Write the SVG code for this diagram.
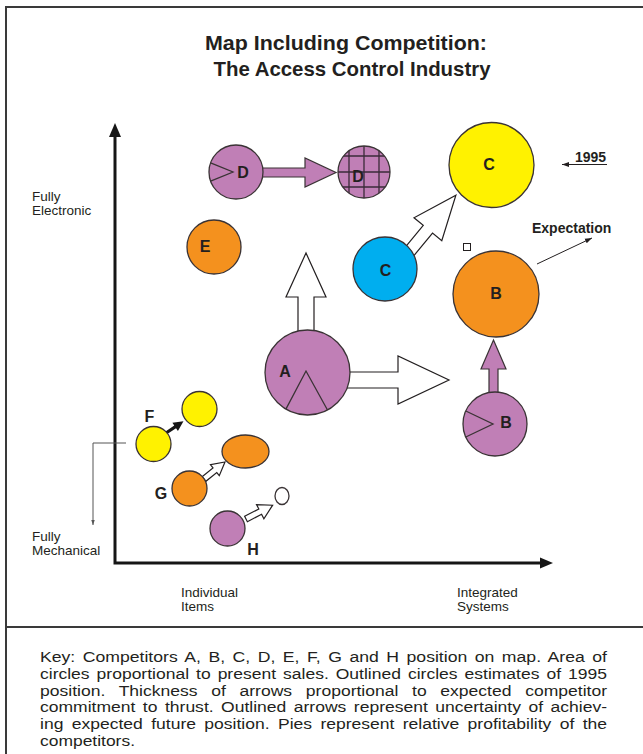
<svg xmlns="http://www.w3.org/2000/svg" width="643" height="754" viewBox="0 0 643 754">
  <style>
    .frame{fill:none;stroke:#3a3a3a;stroke-width:2}
    .axis{fill:none;stroke:#161616;stroke-width:3}
    .axhead{fill:#161616}
    .disc{stroke:#3a3335;stroke-width:1.3}
    .purple{fill:#c07fb6}
    .orange{fill:#f4911e}
    .yellow{fill:#fff200}
    .blue{fill:#00aeef}
    .wedge{fill:none;stroke:#3a3335;stroke-width:1.3}
    .grid{stroke:#3a2a38;stroke-width:1.3}
    .hollow{fill:#fff;stroke:#231f20;stroke-width:1.2;stroke-linejoin:miter}
    .solid{fill:#c07fb6;stroke:#3a3335;stroke-width:1.2}
    .thin{fill:none;stroke:#231f20;stroke-width:1}
    .lead{fill:none;stroke:#555;stroke-width:1}
    .lbl{font-family:"Liberation Sans",Arial,sans-serif;font-weight:bold;font-size:16px;fill:#231f20;text-anchor:middle}
    .note{font-family:"Liberation Sans",Arial,sans-serif;font-weight:bold;font-size:14px;fill:#231f20}
    .axlbl{font-family:"Liberation Sans",Arial,sans-serif;font-size:13.5px;fill:#231f20}
    .title{font-family:"Liberation Sans",Arial,sans-serif;font-weight:bold;font-size:21px;fill:#231f20;text-anchor:middle}
    .key{font-family:"Liberation Sans",Arial,sans-serif;font-size:15.5px;fill:#231f20}
  </style>
  <defs>
    <marker id="tip" viewBox="0 0 10 10" refX="10" refY="5" markerWidth="7" markerHeight="7" orient="auto">
      <path d="M0,1.5 L10,5 L0,8.5 z" fill="#231f20"/>
    </marker>
    <marker id="tipGray" viewBox="0 0 10 10" refX="10" refY="5" markerWidth="5" markerHeight="5" orient="auto">
      <path d="M0,1.5 L10,5 L0,8.5 z" fill="#555"/>
    </marker>
    <clipPath id="d95clip"><circle cx="364" cy="172" r="26"/></clipPath>
  </defs>

  <!-- page frame and key divider -->
  <rect class="frame" x="6" y="7" width="650" height="760"/>
  <line class="frame" x1="6" y1="627" x2="643" y2="627"/>

  <!-- title -->
  <g id="title">
    <text class="title" x="346" y="50" textLength="282" lengthAdjust="spacingAndGlyphs">Map Including Competition:</text>
    <text class="title" x="352" y="76" textLength="277" lengthAdjust="spacingAndGlyphs">The Access Control Industry</text>
  </g>

  <!-- axes -->
  <g id="axes">
    <path class="axis" d="M115,136 V563 H541"/>
    <polygon class="axhead" points="109,137 121,137 115,123"/>
    <polygon class="axhead" points="540,557.5 540,568.5 553,563"/>
    <text class="axlbl" x="32" y="201">Fully</text>
    <text class="axlbl" x="32" y="215">Electronic</text>
    <text class="axlbl" x="32" y="541">Fully</text>
    <text class="axlbl" x="32" y="555">Mechanical</text>
    <text class="axlbl" x="181" y="597">Individual</text>
    <text class="axlbl" x="181" y="611">Items</text>
    <text class="axlbl" x="457" y="597">Integrated</text>
    <text class="axlbl" x="457" y="611">Systems</text>
    <path class="lead" d="M126,443 H93 V525" marker-end="url(#tipGray)"/>
  </g>

  <!-- movement arrows (drawn beneath the circles) -->
  <g id="connectors">
    <!-- D: solid thrust -->
    <polygon class="solid" points="255,168 305,168 305,158 336,172.5 305,187 305,177 255,177"/>
    <!-- B: solid thrust upward -->
    <polygon class="solid" points="489,400 489,369 481,369 493.5,340 506,369 498,369 498,400"/>
    <!-- A: outlined thrusts -->
    <polygon class="hollow" points="298,340 298,297 286,297 306,253 326,297 314,297 314,340"/>
    <polygon class="hollow" points="335,372 398,372 398,356 449,380 398,404 398,388 335,388"/>
    <!-- C: outlined thrust toward 1995 position -->
    <polygon class="hollow" transform="translate(405,257) rotate(-50.5)" points="0,-6 36,-6 36,-18 80,0 36,18 36,6 0,6"/>
    <!-- F: solid thin arrow -->
    <polygon fill="#161616" transform="translate(166,433) rotate(-33.7)" points="0,-1.6 11,-1.6 11,-5 21,0 11,5 11,1.6 0,1.6"/>
    <!-- G and H: small outlined arrows -->
    <polygon class="hollow" transform="translate(204,479) rotate(-39)" points="0,-3 14,-3 14,-7 27,0 14,7 14,3 0,3"/>
    <polygon class="hollow" transform="translate(246,519) rotate(-27.4)" points="0,-3 16,-3 16,-8 30,0 16,8 16,3 0,3"/>
    <!-- annotation pointers -->
    <line class="thin" x1="607" y1="164.5" x2="562" y2="164.5" marker-end="url(#tip)"/>
    <line class="thin" x1="537" y1="264" x2="592" y2="238" marker-end="url(#tip)"/>
  </g>

  <!-- competitors -->
  <g id="node-A">
    <circle class="disc purple" cx="307.5" cy="372.5" r="42.5"/>
    <path class="wedge" d="M285.9,409.1 L306,371 L327.5,410"/>
    <text class="lbl" x="285" y="377">A</text>
  </g>
  <g id="node-B-now">
    <circle class="disc purple" cx="495" cy="424" r="32"/>
    <path class="wedge" d="M465.8,411 L493,424 L465.8,437"/>
    <text class="lbl" x="506" y="428">B</text>
  </g>
  <g id="node-B-1995">
    <circle class="disc orange" cx="496" cy="294" r="43"/>
    <text class="lbl" x="496" y="299">B</text>
  </g>
  <g id="node-C-now">
    <circle class="disc blue" cx="385" cy="269" r="32"/>
    <text class="lbl" x="385.5" y="275.5">C</text>
  </g>
  <g id="node-C-1995">
    <circle class="disc yellow" cx="491.5" cy="165" r="42.5"/>
    <text class="lbl" x="489" y="170">C</text>
  </g>
  <g id="node-D-now">
    <circle class="disc purple" cx="236" cy="172" r="27"/>
    <path class="wedge" d="M210.6,162.8 L233,172 L210.6,181.2"/>
    <text class="lbl" x="243" y="178">D</text>
  </g>
  <g id="node-D-1995">
    <circle class="purple" cx="364" cy="172" r="26"/>
    <g class="grid" clip-path="url(#d95clip)">
      <line x1="349" y1="140" x2="349" y2="205"/>
      <line x1="364" y1="140" x2="364" y2="205"/>
      <line x1="379" y1="140" x2="379" y2="205"/>
      <line x1="330" y1="156" x2="395" y2="156"/>
      <line x1="330" y1="172" x2="395" y2="172"/>
      <line x1="330" y1="187" x2="395" y2="187"/>
    </g>
    <circle class="disc" fill="none" cx="364" cy="172" r="26"/>
    <text class="lbl" x="358" y="182">D</text>
  </g>
  <g id="node-E">
    <circle class="disc orange" cx="214" cy="247" r="27"/>
    <text class="lbl" x="205" y="252">E</text>
  </g>
  <g id="node-F-now">
    <circle class="disc yellow" cx="153.5" cy="444" r="17.5"/>
    <text class="lbl" x="149.5" y="422">F</text>
  </g>
  <g id="node-F-1995">
    <circle class="disc yellow" cx="199.5" cy="409" r="17.5"/>
  </g>
  <g id="node-G-now">
    <circle class="disc orange" cx="189.5" cy="488.5" r="17.5"/>
    <text class="lbl" x="161" y="499">G</text>
  </g>
  <g id="node-G-1995">
    <ellipse class="disc orange" cx="245.5" cy="451.5" rx="23.5" ry="16.5"/>
  </g>
  <g id="node-H-now">
    <circle class="disc purple" cx="227.5" cy="528.5" r="17.5"/>
    <text class="lbl" x="253" y="555">H</text>
  </g>
  <g id="node-H-1995">
    <ellipse class="disc" fill="#fff" cx="282" cy="496" rx="7" ry="8.5"/>
  </g>

  <!-- annotations -->
  <g id="notes">
    <text class="note" x="575" y="162">1995</text>
    <text class="note" x="532" y="233">Expectation</text>
    <rect x="463.5" y="243.5" width="7" height="7" fill="#fff" stroke="#231f20" stroke-width="1"/>
  </g>

  <!-- key: justified paragraph, word gaps widened per line, run scaled to the column width -->
  <g id="key">
    <text class="key" x="40" y="662" word-spacing="2.3" textLength="567" lengthAdjust="spacingAndGlyphs">Key: Competitors A, B, C, D, E, F, G and H position on map. Area of</text>
    <text class="key" x="40" y="679" word-spacing="1.9" textLength="567" lengthAdjust="spacingAndGlyphs">circles proportional to present sales. Outlined circles estimates of 1995</text>
    <text class="key" x="40" y="695.5" word-spacing="7.8" textLength="567" lengthAdjust="spacingAndGlyphs">position. Thickness of arrows proportional to expected competitor</text>
    <text class="key" x="40" y="712" word-spacing="2.3" textLength="567" lengthAdjust="spacingAndGlyphs">commitment to thrust. Outlined arrows represent uncertainty of achiev-</text>
    <text class="key" x="40" y="729" word-spacing="3.1" textLength="567" lengthAdjust="spacingAndGlyphs">ing expected future position. Pies represent relative profitability of the</text>
    <text class="key" x="40" y="746" textLength="95" lengthAdjust="spacingAndGlyphs">competitors.</text>
  </g>
</svg>
